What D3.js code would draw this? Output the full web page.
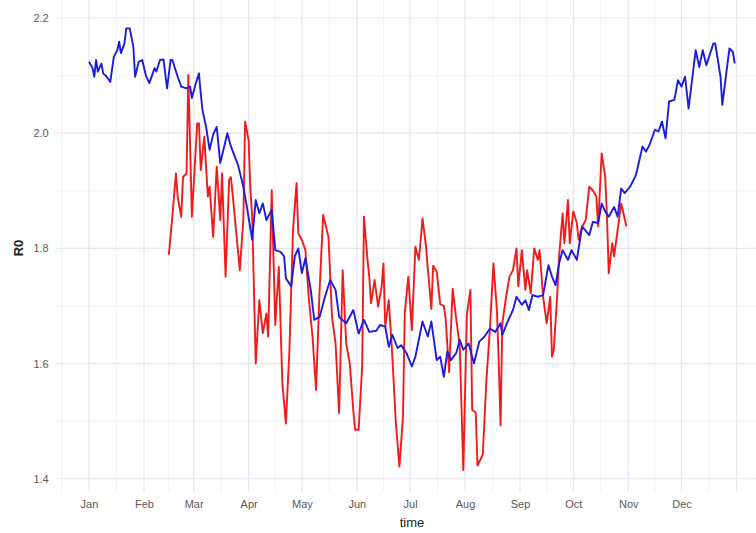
<!DOCTYPE html>
<html>
<head>
<meta charset="utf-8">
<script src="https://cdn.jsdelivr.net/npm/d3@7"></script>
<style>
  html, body { margin: 0; padding: 0; background: #ffffff; }
  svg { display: block; }
  text { font-family: "Liberation Sans", Arial, Helvetica, sans-serif; }
</style>
</head>
<body>
<div id="chart"></div>
<script>
// ---- data (day index from 1 Jan, R0 value) ----
const monthLabels = ["Jan","Feb","Mar","Apr","May","Jun","Jul","Aug","Sep","Oct","Nov","Dec"];
const yTicks = [1.4, 1.6, 1.8, 2.0, 2.2];
const yMinorTicks = [1.5, 1.7, 1.9, 2.1];

const blueDays = [0,2,3,4,5,7,8,10,12,14,16,17,18,20,21,23,25,26,28,30,32,34,37,38,40,42,44,46,47,50,52,55,57,58,60,62,63,64,66,68,70,72,74,78,80,84,87,89,92,94,96,98,100,103,105,108,110,111,114,116,118,120,122,125,127,130,133,136,139,141,145,149,152,155,158,162,164,167,169,171,174,176,179,182,184,188,191,193,196,198,200,202,204,207,209,211,214,217,220,223,226,229,232,233,236,239,241,244,246,248,250,253,256,259,261,263,265,267,270,272,275,278,282,284,287,289,291,293,296,298,300,302,305,308,309,312,314,316,319,321,323,325,327,330,332,334,336,338,342,344,346,348,352,353,356,357,359,361,363,364];
const blueR0 = [2.124,2.113,2.098,2.127,2.107,2.121,2.104,2.098,2.089,2.133,2.144,2.159,2.139,2.156,2.182,2.182,2.150,2.098,2.124,2.127,2.101,2.087,2.113,2.107,2.127,2.128,2.078,2.127,2.127,2.098,2.081,2.078,2.081,2.061,2.084,2.104,2.069,2.040,2.011,1.971,1.998,2.011,1.948,2.000,1.977,1.945,1.907,1.872,1.815,1.884,1.861,1.878,1.849,1.867,1.797,1.794,1.786,1.748,1.734,1.786,1.800,1.757,1.783,1.728,1.676,1.681,1.716,1.745,1.728,1.681,1.670,1.693,1.652,1.676,1.655,1.657,1.667,1.664,1.629,1.650,1.627,1.632,1.618,1.595,1.612,1.673,1.647,1.673,1.606,1.612,1.577,1.621,1.606,1.618,1.641,1.624,1.635,1.600,1.638,1.647,1.661,1.655,1.670,1.650,1.673,1.693,1.716,1.702,1.710,1.693,1.719,1.716,1.719,1.771,1.751,1.736,1.774,1.797,1.780,1.797,1.780,1.838,1.823,1.846,1.844,1.878,1.864,1.855,1.872,1.855,1.904,1.896,1.907,1.925,1.936,1.977,1.968,1.980,2.006,2.003,2.020,1.991,2.055,2.058,2.092,2.081,2.098,2.043,2.144,2.115,2.144,2.118,2.156,2.156,2.098,2.049,2.098,2.147,2.141,2.121];

const redDays = [45,47,49,50,52,53,55,56,58,61,62,63,65,67,68,70,72,74,75,77,79,80,82,85,87,88,90,91,92,94,96,98,100,101,103,105,107,109,111,113,115,117,118,120,122,124,126,128,130,132,135,137,139,141,143,145,147,149,150,152,154,155,157,158,159,161,163,165,166,167,169,171,173,175,177,178,180,182,184,186,188,190,191,193,194,196,198,200,201,203,205,207,209,211,213,215,216,218,219,222,224,226,228,230,231,232,233,235,237,239,241,242,244,246,247,249,251,253,254,256,258,260,261,262,264,265,267,268,270,271,273,275,276,278,280,282,284,286,287,289,291,292,293,295,296,298,300,303];
const redR0 = [1.789,1.855,1.930,1.890,1.855,1.924,1.930,2.101,1.855,2.017,2.017,1.936,1.994,1.890,1.907,1.820,1.942,1.849,1.930,1.751,1.919,1.924,1.861,1.762,1.849,2.020,1.988,1.901,1.855,1.600,1.710,1.653,1.687,1.647,1.901,1.667,1.768,1.566,1.496,1.624,1.832,1.913,1.826,1.815,1.797,1.710,1.647,1.554,1.728,1.858,1.820,1.681,1.635,1.514,1.762,1.635,1.600,1.519,1.485,1.485,1.595,1.855,1.780,1.751,1.705,1.745,1.699,1.734,1.774,1.664,1.710,1.612,1.496,1.421,1.508,1.687,1.751,1.658,1.803,1.780,1.852,1.803,1.765,1.695,1.770,1.760,1.703,1.700,1.680,1.585,1.730,1.678,1.630,1.415,1.685,1.728,1.520,1.515,1.423,1.442,1.570,1.660,1.774,1.690,1.600,1.493,1.670,1.713,1.751,1.762,1.800,1.734,1.797,1.728,1.762,1.722,1.800,1.780,1.797,1.716,1.670,1.716,1.612,1.624,1.722,1.786,1.861,1.809,1.884,1.809,1.864,1.844,1.815,1.838,1.849,1.907,1.901,1.890,1.838,1.965,1.924,1.855,1.757,1.809,1.786,1.832,1.878,1.838];

// ---- layout ----
const W = 756, H = 533;
const DAY = 864e5;
const base = Date.UTC(2021, 0, 1);
const toDate = d => new Date(base + d * DAY);

const x = d3.scaleUtc()
  .domain([toDate(-18.2), toDate(382.2)])
  .range([56.7, 767]);
const y = d3.scaleLinear()
  .domain([1.377, 2.220])
  .range([492, 6.5]);

const svg = d3.select("#chart").append("svg")
  .attr("width", W).attr("height", H);

const panelLeft = 56.7, panelRight = W, panelTop = 0, panelBottom = 492;

// gridlines
const majors = d3.utcMonth.range(d3.utcMonth.ceil(x.domain()[0]), x.domain()[1]);
const allMonths = d3.utcMonth.range(d3.utcMonth.floor(x.domain()[0]), d3.utcMonth.offset(x.domain()[1], 1));
const minors = [];
for (let i = 0; i < allMonths.length - 1; i++) {
  const m = new Date((allMonths[i].getTime() + allMonths[i + 1].getTime()) / 2);
  if (m >= x.domain()[0] && m <= x.domain()[1]) minors.push(m);
}

const grid = svg.append("g");
grid.selectAll(".hmin").data(yMinorTicks).join("line")
  .attr("x1", panelLeft).attr("x2", panelRight)
  .attr("y1", d => y(d)).attr("y2", d => y(d))
  .attr("stroke", "#f1f0f7").attr("stroke-width", 0.9);
grid.selectAll(".vmin").data(minors).join("line")
  .attr("x1", d => x(d)).attr("x2", d => x(d))
  .attr("y1", panelTop).attr("y2", panelBottom)
  .attr("stroke", "#f1f0f7").attr("stroke-width", 0.9);
grid.selectAll(".hmaj").data(yTicks).join("line")
  .attr("x1", panelLeft).attr("x2", panelRight)
  .attr("y1", d => y(d)).attr("y2", d => y(d))
  .attr("stroke", "#e6e5f0").attr("stroke-width", 1.2);
grid.selectAll(".vmaj").data(majors).join("line")
  .attr("x1", d => x(d)).attr("x2", d => x(d))
  .attr("y1", panelTop).attr("y2", panelBottom)
  .attr("stroke", "#e6e5f0").attr("stroke-width", 1.2);

// lines
const line = d3.line()
  .x(d => x(toDate(d[0])))
  .y(d => y(d[1]));

const redData = redDays.map((d, i) => [d, redR0[i]]);
const blueData = blueDays.map((d, i) => [d, blueR0[i]]);

svg.append("path").datum(redData)
  .attr("d", line).attr("fill", "none")
  .attr("stroke", "#f41a1a").attr("stroke-width", 1.9)
  .attr("stroke-linejoin", "round");
svg.append("path").datum(blueData)
  .attr("d", line).attr("fill", "none")
  .attr("stroke", "#1c1ce0").attr("stroke-width", 1.9)
  .attr("stroke-linejoin", "round");

// axes text
const yAxis = d3.axisLeft(y).tickValues(yTicks).tickFormat(d3.format(".1f")).tickSize(0).tickPadding(8);
const gy = svg.append("g").attr("transform", `translate(${panelLeft},0)`).call(yAxis);
gy.select(".domain").remove();
gy.selectAll("text").attr("fill", "#595959").style("font-size", "11px");

const labelMonths = majors.filter(d => d.getUTCFullYear() === 2021);
const xAxis = d3.axisBottom(x).tickValues(labelMonths)
  .tickFormat((d, i) => monthLabels[d.getUTCMonth()]).tickSize(0).tickPadding(8);
const gx = svg.append("g").attr("transform", `translate(0,${panelBottom})`).call(xAxis);
gx.select(".domain").remove();
gx.selectAll("text").attr("fill", "#595959").style("font-size", "11px");

svg.append("text")
  .attr("x", 412).attr("y", 527)
  .attr("text-anchor", "middle")
  .attr("fill", "#222")
  .style("font-size", "13px")
  .text("time");

svg.append("text")
  .attr("transform", "translate(23,248) rotate(-90)")
  .attr("text-anchor", "middle")
  .attr("fill", "#222")
  .style("font-size", "13px")
  .style("font-weight", "bold")
  .text("R0");
</script>
</body>
</html>
